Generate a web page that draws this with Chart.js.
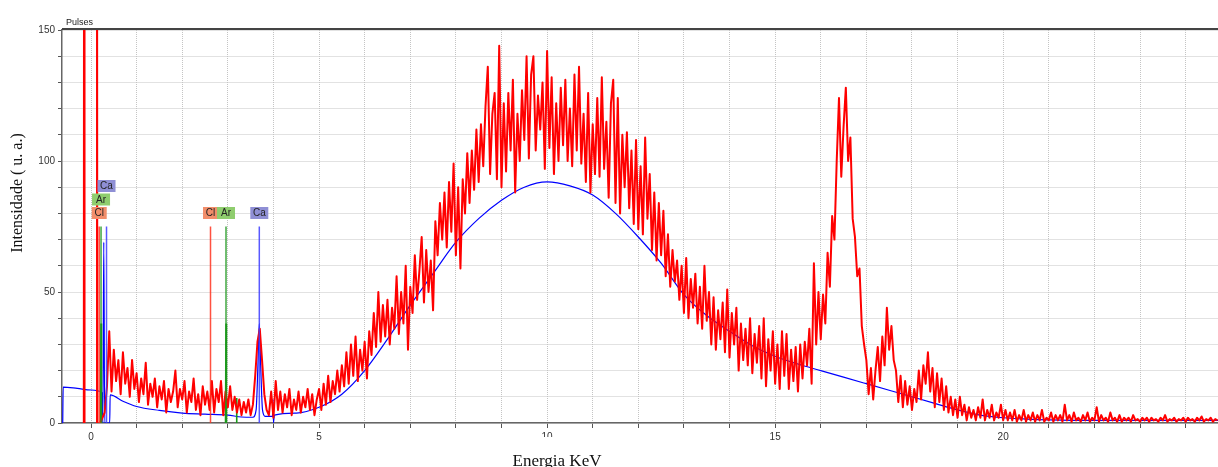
<!DOCTYPE html>
<html>
<head>
<meta charset="utf-8">
<script src="https://cdn.jsdelivr.net/npm/chart.js@4.4.1/dist/chart.umd.min.js"></script>
<style>
  html, body { margin: 0; padding: 0; background: #fff; }
  canvas { display: block; }
</style>
</head>
<body>
<canvas id="spectrum" width="1218" height="467"></canvas>
<script>
// pulsos do gerador (saem do topo do gráfico)
const pulseEnergy = [-0.16, -0.15, -0.14, 0, 0.12, 0.13, 0.14];
const pulseCounts = [0, 400, 0, null, 0, 400, 0];

// espectro medido: começa em 0.20 keV, passo de 0.05 keV (uma linha = 1 keV)
const spectrumStart = 0.2;
const spectrumStep = 0.05;
const spectrumCounts = [
  0, 2, 4, 14, 35, 12, 28, 16, 24, 11, 27, 15, 21, 10, 24, 13, 19, 8, 17, 11,
  23, 7, 15, 10, 17, 6, 14, 9, 16, 4, 13, 8, 12, 20, 6, 13, 9, 16, 4, 12,
  8, 17, 5, 11, 3, 14, 7, 12, 5, 16, 4, 13, 8, 16, 3, 12, 6, 14, 5, 10,
  4, 9, 3, 8, 4, 9, 3, 7, 18, 31, 36, 24, 11, 5, 3, 12, 2, 16, 5, 12,
  4, 11, 6, 13, 3, 9, 5, 12, 4, 10, 6, 13, 5, 11, 3, 9, 13, 5, 15, 7,
  18, 8, 16, 11, 20, 12, 22, 14, 27, 15, 30, 18, 33, 16, 28, 20, 31, 17, 35, 26,
  42, 29, 50, 31, 45, 33, 47, 30, 44, 36, 56, 34, 50, 38, 60, 28, 52, 42, 64, 47,
  58, 71, 46, 66, 50, 62, 43, 77, 64, 84, 70, 88, 67, 92, 73, 99, 64, 90, 59, 93,
  80, 103, 84, 104, 89, 112, 92, 114, 98, 121, 136, 95, 118, 126, 93, 144, 90, 122, 96, 126,
  104, 131, 88, 118, 100, 127, 108, 140, 101, 133, 140, 104, 125, 112, 130, 97, 142, 105, 132, 95,
  122, 100, 128, 106, 131, 100, 120, 98, 133, 104, 136, 99, 118, 92, 126, 88, 114, 95, 124, 94,
  132, 97, 115, 86, 122, 131, 84, 124, 80, 110, 90, 111, 82, 104, 76, 108, 74, 98, 72, 109,
  78, 95, 66, 88, 62, 84, 64, 81, 56, 72, 52, 66, 54, 62, 47, 60, 42, 63, 40, 55,
  44, 57, 38, 52, 36, 60, 39, 50, 30, 48, 28, 43, 32, 46, 27, 51, 25, 42, 30, 44,
  20, 38, 24, 36, 22, 40, 19, 34, 23, 37, 17, 40, 14, 32, 20, 35, 15, 30, 13, 35,
  18, 34, 13, 28, 16, 29, 12, 30, 17, 31, 22, 36, 15, 61, 30, 50, 32, 49, 38, 65,
  52, 79, 70, 100, 124, 94, 113, 128, 100, 109, 78, 71, 56, 59, 37, 30, 24, 11, 21, 9,
  20, 29, 16, 33, 22, 44, 28, 37, 24, 20, 8, 18, 6, 16, 7, 14, 5, 13, 8, 20,
  9, 22, 15, 27, 12, 21, 6, 19, 8, 17, 5, 14, 4, 10, 3, 9, 2, 10, 3, 7,
  1, 6, 2, 5, 1, 6, 2, 9, 1, 5, 2, 7, 1, 4, 2, 7, 1, 5, 1, 4,
  1, 5, 0.5, 3, 1, 5, 0.5, 3, 1, 4, 0.5, 3, 1, 5, 0.5, 2, 1, 4, 0.5, 3,
  1, 3, 0.5, 7, 1, 3, 0.5, 4, 1, 2, 0.5, 3, 1, 4, 0.5, 2, 1, 6, 0.5, 3,
  1, 2, 0.5, 4, 1, 2, 0.5, 3, 0.5, 2, 1, 2, 0.5, 3, 1, 1.5, 0.5, 2, 1, 2,
  0.5, 2, 1, 1.5, 0.5, 2, 1, 3, 0.5, 1.5, 1, 2, 0.5, 1.5, 1, 2, 0.5, 2, 1, 1.5,
  0.5, 2, 1, 2.5, 0.5, 1.5, 1, 2, 0.5, 1.5, 1
];

// ajuste (fundo + picos) em azul
const fitEnergy = [-0.62, -0.61, -0.3, 0, 0.24, 0.26, 0.28, 0.3, 0.41, 0.42, 0.7, 1, 1.5, 2, 2.5, 3, 3.3, 3.55,
  3.62, 3.66, 3.69, 3.72, 3.76, 3.82, 3.98, 3.99, 4, 4.02, 4.5, 5, 5.5, 6, 6.5, 7, 7.5, 8, 8.5, 9, 9.5, 10,
  10.5, 11, 11.5, 12, 12.5, 13, 13.5, 14, 14.5, 15, 15.5, 16, 16.5, 17, 17.5, 18, 18.5, 19, 19.5, 20, 20.5,
  21, 22, 23, 24, 24.8];
const fitCounts = [0, 13.7, 13.2, 12.6, 11.6, 0, 69, 0, 0, 10.7, 8.3, 6.3, 4.8, 3.8, 3.4, 3, 2.3, 2.2,
  5, 22, 38, 22, 5, 2.5, 2.5, 9, 0, 3, 3.8, 6, 11, 20, 32, 45, 57, 69, 78, 85, 90, 92,
  90.5, 87, 80, 71, 61, 49, 41, 35, 29.5, 25.5, 22.5, 20, 17.5, 15, 12.5, 10, 7.5, 5, 3, 2, 1.5,
  1.2, 1, 1, 1, 1];

// picos do Ar (verde)
const arEnergy = [0.21, 0.22, 0.23, 1, 2.95, 2.96, 2.97, 3.1, 3.18, 3.19, 3.2];
const arCounts = [0, 38, 0, null, 0, 38, 0, null, 0, 9.5, 0];

// marcadores dos elementos
const markerElement = ['Cl', 'Ar', 'Ca', 'Cl', 'Ar', 'Ca'];
const markerEnergy = [0.18, 0.22, 0.34, 2.62, 2.96, 3.69];
const markerTop = 75;

const xMin = -0.636, xMax = 24.71;
const yMin = 0, yMax = 150;

const elementLine = { Cl: 'rgba(255,50,30,0.85)', Ar: 'rgba(30,150,30,0.85)', Ca: 'rgba(60,60,255,0.85)' };
const elementBox = { Cl: '#f28e6b', Ar: '#8fcd6e', Ca: '#8f8fd5' };

const toPoints = (xs, ys) => xs.map((x, i) => ({ x, y: ys[i] }));
const spectrumPoints = spectrumCounts.map((c, i) => ({ x: +(spectrumStart + i * spectrumStep).toFixed(2), y: c }));

const markerSets = markerEnergy.map((e, i) => ({
  data: [{ x: e, y: 0 }, { x: e, y: markerTop }],
  borderColor: elementLine[markerElement[i]],
  borderWidth: 1.5,
  pointRadius: 0
}));

const overlay = {
  id: 'overlay',
  afterDatasetsDraw(chart) {
    const { ctx, chartArea: a, scales: { x, y } } = chart;
    ctx.save();
    // linha do topo
    ctx.strokeStyle = '#444';
    ctx.lineWidth = 2;
    ctx.beginPath();
    ctx.moveTo(a.left, a.top - 1);
    ctx.lineTo(a.right, a.top - 1);
    ctx.stroke();

    ctx.fillStyle = '#222';
    ctx.font = '9px "Liberation Sans", Arial, sans-serif';
    ctx.textAlign = 'left';
    ctx.textBaseline = 'bottom';
    ctx.fillText('Pulses', a.left + 4, a.top - 3);

    // etiquetas dos elementos (empilha as que estão próximas)
    ctx.font = '10px "Liberation Sans", Arial, sans-serif';
    ctx.textAlign = 'center';
    ctx.textBaseline = 'middle';
    markerEnergy.forEach((e, i) => {
      let level = 0;
      for (let j = 0; j < i; j++) if (Math.abs(markerEnergy[j] - e) < 0.25) level++;
      const el = markerElement[i];
      const cx = x.getPixelForValue(e);
      const cy = y.getPixelForValue(markerTop) - 13.5 - level * 13.5;
      const w = el === 'Cl' ? 15 : 18;
      ctx.fillStyle = elementBox[el];
      ctx.fillRect(cx - w / 2, cy - 6, w, 12);
      ctx.fillStyle = '#222';
      ctx.fillText(el, cx, cy + 0.5);
    });

    // títulos dos eixos
    ctx.fillStyle = '#fff';
    ctx.fillRect(500, a.bottom + 14, 115, chart.height - a.bottom - 14);
    ctx.fillStyle = '#111';
    ctx.font = '17px "Liberation Serif", "Times New Roman", serif';
    ctx.textAlign = 'center';
    ctx.textBaseline = 'alphabetic';
    ctx.fillText('Energia KeV', 557, chart.height - 1);

    ctx.translate(22, 193);
    ctx.rotate(-Math.PI / 2);
    ctx.font = '16px "Liberation Serif", "Times New Roman", serif';
    ctx.fillText('Intensidade ( u. a.)', 0, 0);
    ctx.restore();
  }
};

new Chart(document.getElementById('spectrum'), {
  type: 'line',
  data: {
    datasets: [
      ...markerSets,
      { data: toPoints(pulseEnergy, pulseCounts), borderColor: '#ff0000', borderWidth: 1.8, pointRadius: 0, spanGaps: false },
      { data: spectrumPoints, borderColor: '#ff0000', borderWidth: 2, pointRadius: 0, borderJoinStyle: 'round' },
      { data: toPoints(arEnergy, arCounts), borderColor: '#1a9a1a', borderWidth: 1.6, pointRadius: 0, spanGaps: false },
      { data: toPoints(fitEnergy, fitCounts), borderColor: '#0000ff', borderWidth: 1.2, pointRadius: 0, cubicInterpolationMode: 'monotone' }
    ]
  },
  options: {
    responsive: false,
    animation: false,
    events: [],
    layout: { padding: { top: 30, right: 0, left: 0, bottom: 0 } },
    plugins: { legend: { display: false }, tooltip: { enabled: false } },
    scales: {
      x: {
        type: 'linear',
        min: xMin,
        max: xMax,
        afterFit: s => { s.height = 44; s.paddingLeft = 0; s.paddingRight = 0; },
        ticks: {
          stepSize: 1,
          includeBounds: false,
          autoSkip: false,
          maxRotation: 0,
          padding: 3,
          color: '#333',
          font: { size: 10, family: '"Liberation Sans", Arial, sans-serif' },
          callback: v => (Math.abs(v % 5) < 1e-6 ? v : '')
        },
        grid: { color: '#c4c4c4', lineWidth: 1, tickLength: 5, tickColor: '#555', tickWidth: 1 },
        border: { dash: [1, 1], color: '#666', width: 1.5 }
      },
      y: {
        min: yMin,
        max: yMax,
        afterFit: s => { s.width = 62; },
        ticks: {
          stepSize: 10,
          includeBounds: false,
          autoSkip: false,
          padding: 3,
          color: '#333',
          font: { size: 10, family: '"Liberation Sans", Arial, sans-serif' },
          callback: v => (v % 50 === 0 ? v : '')
        },
        grid: { color: '#c4c4c4', lineWidth: 1, tickLength: 4, tickColor: '#555', tickWidth: 1 },
        border: { dash: [1, 1], color: '#666', width: 1.5 }
      }
    }
  },
  plugins: [overlay]
});
</script>
</body>
</html>
